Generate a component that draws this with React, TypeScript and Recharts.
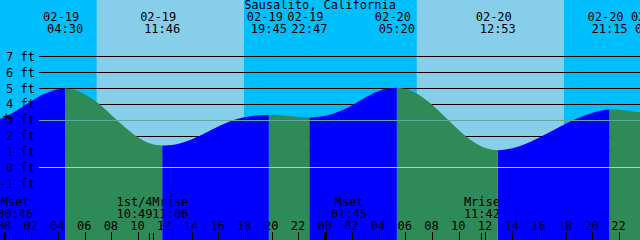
import { Area, AreaChart, ReferenceArea, ReferenceLine, XAxis, YAxis } from 'recharts';

// hours counted from 02-19 00:00
const hours = [
  -1, 0, 1, 2, 3, 4, 5, 6, 7, 8, 9, 10, 11, 12, 13, 14, 15, 16, 17, 18, 19, 20, 21, 22, 23, 24,
  25, 26, 27, 28, 29, 30, 31, 32, 33, 34, 35, 36, 37, 38, 39, 40, 41, 42, 43, 44, 45, 46, 47, 48,
];
const heights = [
  2.94, 3.21, 3.68, 4.22, 4.69, 4.96, 4.96, 4.63, 4.05, 3.3, 2.54, 1.9, 1.5, 1.41, 1.52, 1.8, 2.2,
  2.62, 2.98, 3.2, 3.32, 3.34, 3.28, 3.21, 3.19, 3.28, 3.55, 3.95, 4.45, 4.85, 5.03, 4.97, 4.59,
  3.95, 3.16, 2.36, 1.67, 1.23, 1.11, 1.24, 1.52, 1.91, 2.35, 2.8, 3.18, 3.48, 3.67, 3.66, 3.56, 3.46,
];

const tideHours = [4.5, 11.767, 19.75, 22.783, 29.333, 36.883, 45.25, 48.5];
const tideHeights = [5.0, 1.4, 3.35, 3.18, 5.05, 1.1, 3.69, 3.44];
const tideKinds = ['H', 'L', 'H', 'L', 'H', 'L', 'H', 'L'];
const tideDates = ['02-19', '02-19', '02-19', '02-19', '02-20', '02-20', '02-20', '02-21'];
const tideTimes = ['04:30', '11:46', '19:45', '22:47', '05:20', '12:53', '21:15', '00:30'];

const moonHours = [0.767, 10.817, 11.1, 25.75, 35.7];
const moonNames = ['Mset', '1st/4', 'Mrise', 'Mset', 'Mrise'];
const moonTimes = ['00:46', '10:49', '11:06', '01:45', '11:42'];
const moonNudge = [0, -15, 17, 0, 0];

const sunrise = [6.86, 30.82];
const sunset = [17.89, 41.84];

const hourTicks = [0, 2, 4, 6, 8, 10, 12, 14, 16, 18, 20, 22, 24, 26, 28, 30, 32, 34, 36, 38, 40, 42, 44, 46];
const ftTicks = [-1, 0, 1, 2, 3, 4, 5, 6, 7];
const gridLevels = [1, 2, 4, 5, 6, 7];
const MEAN_LEVEL = 3;
const DATUM_LEVEL = 0;

const X_MIN = -0.374;
const X_MAX = 47.53;
const Y_MIN = -4.555;
const Y_MAX = 10.587;
const GRID_START = 2.55;

const FONT = '"DejaVu Sans Mono", monospace';
const NIGHT = '#00BFFF';
const DAY = '#87CEEB';

const rows = [
  ...hours.map((h, i) => ({ h, v: heights[i], ext: false })),
  ...tideHours.map((h, i) => ({ h, v: tideHeights[i], ext: true })),
]
  .sort((a, b) => a.h - b.h)
  .map((r) => {
    if (r.ext) return { h: r.h, rise: r.v, fall: r.v };
    const next = tideHours.findIndex((t) => t >= r.h);
    const rising = tideKinds[next] === 'H';
    return { h: r.h, rise: rising ? r.v : null, fall: rising ? null : r.v };
  });

function HourTick(props: any) {
  const { x, payload } = props;
  const v = payload.value;
  const label = String(((v % 24) + 24) % 24).padStart(2, '0');
  return (
    <g>
      <line x1={x} x2={x} y1={232} y2={240} stroke="#000" strokeWidth={v % 24 === 0 ? 3 : 1} shapeRendering="crispEdges" />
      <text x={x - 1} y={230} textAnchor="middle" fontSize={12} fontFamily={FONT} fill="#000">
        {label}
      </text>
    </g>
  );
}

function FtTick(props: any) {
  const { y, payload } = props;
  const v = payload.value;
  return (
    <g>
      {v === MEAN_LEVEL && (
        <text x={6} y={y + 1} textAnchor="middle" fontSize={12} fontFamily={FONT} fill="#000">+</text>
      )}
      <text x={35} y={y + 4} textAnchor="end" fontSize={12} fontFamily={FONT} fill="#000">
        {`${v} ft`}
      </text>
    </g>
  );
}

const tideLabel = (i: number) => (p: any) => {
  const x = p.viewBox.x;
  return (
    <g>
      <text x={x - 4} y={21} textAnchor="middle" fontSize={12} fontFamily={FONT} fill="#000">{tideDates[i]}</text>
      <text x={x} y={33} textAnchor="middle" fontSize={12} fontFamily={FONT} fill="#000">{tideTimes[i]}</text>
    </g>
  );
};

const moonLabel = (i: number) => (p: any) => {
  const x = p.viewBox.x;
  const cx = x + moonNudge[i];
  return (
    <g>
      <line x1={x} x2={x} y1={233} y2={240} stroke="#000" strokeWidth={1} shapeRendering="crispEdges" />
      <text x={cx} y={206} textAnchor="middle" fontSize={12} fontFamily={FONT} fill="#000">{moonNames[i]}</text>
      <text x={cx} y={218} textAnchor="middle" fontSize={12} fontFamily={FONT} fill="#000">{moonTimes[i]}</text>
    </g>
  );
};

export default function App() {
  return (
    <div style={{ position: 'absolute', left: 0, top: 0, width: 640, height: 240, background: NIGHT, overflow: 'hidden' }}>
      <AreaChart width={640} height={240} data={rows} margin={{ top: 0, right: 0, bottom: 0, left: 0 }}>
        {sunrise.map((s, i) => (
          <ReferenceArea key={`day${i}`} x1={s} x2={sunset[i]} fill={DAY} fillOpacity={1} stroke="none" zIndex={-200} />
        ))}
        {gridLevels.map((lv) => (
          <ReferenceLine
            key={`g${lv}`}
            segment={[{ x: GRID_START, y: lv }, { x: X_MAX, y: lv }]}
            stroke="#000"
            strokeWidth={1}
            shapeRendering="crispEdges"
            zIndex={-150}
          />
        ))}
        <XAxis
          dataKey="h"
          type="number"
          domain={[X_MIN, X_MAX]}
          allowDataOverflow
          ticks={hourTicks}
          interval={0}
          mirror
          axisLine={false}
          tickLine={false}
          tick={HourTick}
          zIndex={500}
        />
        <YAxis
          type="number"
          domain={[Y_MIN, Y_MAX]}
          allowDataOverflow
          ticks={ftTicks}
          interval={0}
          mirror
          axisLine={false}
          tickLine={false}
          tick={FtTick}
          zIndex={500}
        />
        <Area
          dataKey="rise"
          type="monotone"
          fill="#0000FF"
          fillOpacity={1}
          stroke="none"
          baseValue={Y_MIN}
          connectNulls={false}
          dot={false}
          activeDot={false}
          isAnimationActive={false}
          zIndex={100}
        />
        <Area
          dataKey="fall"
          type="monotone"
          fill="#2E8B57"
          fillOpacity={1}
          stroke="none"
          baseValue={Y_MIN}
          connectNulls={false}
          dot={false}
          activeDot={false}
          isAnimationActive={false}
          zIndex={100}
        />
        <ReferenceLine
          segment={[{ x: GRID_START, y: MEAN_LEVEL }, { x: X_MAX, y: MEAN_LEVEL }]}
          stroke="#5FA89E"
          strokeWidth={1}
          shapeRendering="crispEdges"
          zIndex={300}
        />
        <ReferenceLine
          segment={[{ x: GRID_START, y: DATUM_LEVEL }, { x: X_MAX, y: DATUM_LEVEL }]}
          stroke="#9FD3E6"
          strokeWidth={1}
          shapeRendering="crispEdges"
          zIndex={300}
        />
        {tideHours.map((t, i) => (
          <ReferenceLine key={`t${i}`} x={t} stroke="none" ifOverflow="visible" label={tideLabel(i)} zIndex={2000} />
        ))}
        {moonHours.map((t, i) => (
          <ReferenceLine key={`m${i}`} x={t} stroke="none" ifOverflow="visible" label={moonLabel(i)} zIndex={2000} />
        ))}
      </AreaChart>
      <svg width={640} height={240} style={{ position: 'absolute', left: 0, top: 0, pointerEvents: 'none' }}>
        <text x={320} y={9} textAnchor="middle" fontSize={12} fontFamily={FONT} fill="#000">
          Sausalito, California
        </text>
      </svg>
    </div>
  );
}
